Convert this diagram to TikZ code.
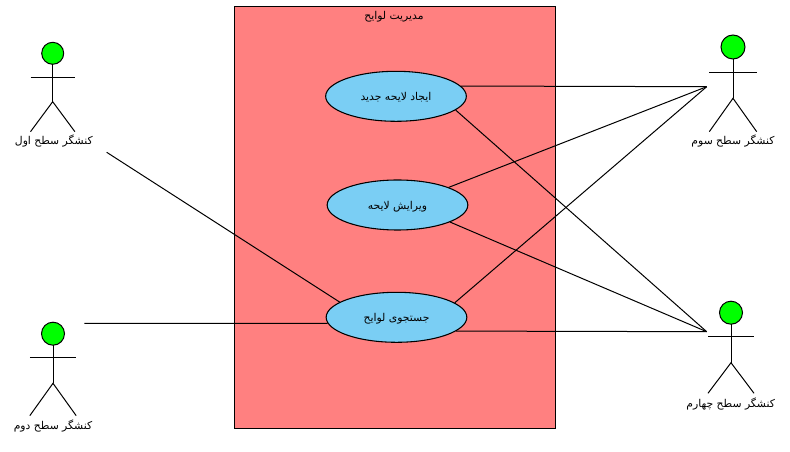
\documentclass[tikz,border=0pt]{standalone}
\usepackage{fontspec}
\usetikzlibrary{shapes.geometric}
\TeXXeTstate=1
\newfontfamily\arabicfont[Script=Arabic]{DejaVu Sans}
\definecolor{sysred}{HTML}{FF8080}
\definecolor{caseblue}{HTML}{7ACEF4}
\tikzset{
	farsitext/.style={inner sep=0pt, font=\arabicfont\fontsize{8.1}{10}\selectfont},
	usecase/.style={farsitext, draw=black, fill=caseblue, ellipse, inner sep=0pt, line width=0.8pt, minimum width=105.5pt, minimum height=37.5pt, text height=7.6pt, text depth=1pt},
	sysbox/.style={draw=black, fill=sysred, inner sep=0pt, line width=0.75pt, minimum width=240.75pt, minimum height=316.5pt},
	link/.style={line width=0.75pt}
}
% x, head y, head radius, half width, arm y, hip y, foot y
\def\actorfig(#1,#2,#3,#4,#5,#6,#7){
	\draw[link, fill=green] (#1, #2) circle (#3*0.75pt);
	\draw[link] (#1, #2+#3) -- (#1, #6);
	\draw[link] (#1-#4, #5) -- (#1+#4, #5);
	\draw[link] (#1-#4, #7) -- (#1, #6) -- (#1+#4, #7);
}

\begin{document}
\begin{tikzpicture}[x=0.75pt, y=-0.75pt]
		\useasboundingbox (0, 0) rectangle (790, 452);
		%%%%% system %%%%%
		\node[sysbox] (lawayeh) at (394.75, 217.5) {};
		\node[farsitext] (lawayehtitle) at (394, 17) {\beginR مدیریت لوایح\endR};

		%%%%% use cases %%%%%
		\node[usecase] (create) at (396, 96.3) {\beginR ایجاد لایحه جدید\endR};
		\node[usecase] (edit) at (397.5, 205) {\beginR ویرایش لایحه\endR};
		\node[usecase] (search) at (396.5, 317.3) {\beginR جستجوی لوایح\endR};

		%%%%% actors %%%%%
		\actorfig(52.7, 53.3, 11, 22.2, 77.3, 101.7, 131.7)
		\node[farsitext] (actorone) at (53.8, 141) {\beginR کنشگر سطح اول\endR};
		\actorfig(53, 333.7, 11.5, 23.2, 357.3, 383.3, 415.7)
		\node[farsitext] (actortwo) at (53, 425.5) {\beginR کنشگر سطح دوم\endR};
		\actorfig(733, 47, 12, 23.7, 72.3, 98.3, 131.7)
		\node[farsitext] (actorthree) at (733, 141) {\beginR کنشگر سطح سوم\endR};
		\actorfig(731, 312.7, 11.5, 23, 336.3, 362.7, 393.3)
		\node[farsitext] (actorfour) at (730.7, 404) {\beginR کنشگر سطح چهارم\endR};

		\coordinate (portone) at (106.7, 152.3);
		\coordinate (porttwo) at (84.3, 323.3);
		\coordinate (portthree) at (706.7, 86.7);
		\coordinate (portfour) at (706.7, 331.7);

		%%%%% links %%%%%
		\draw[link] (portone) -- (search.165);
		\draw[link] (porttwo) -- (search.185);
		\draw[link] (create.9.2) -- (portthree);
		\draw[link] (edit.19.6) -- (portthree);
		\draw[link] (search.14.4) -- (portthree);
		\draw[link] (create.-13.8) -- (portfour);
		\draw[link] (edit.-18.6) -- (portfour);
		\draw[link] (search.-13.5) -- (portfour);
	\end{tikzpicture}
\end{document}
